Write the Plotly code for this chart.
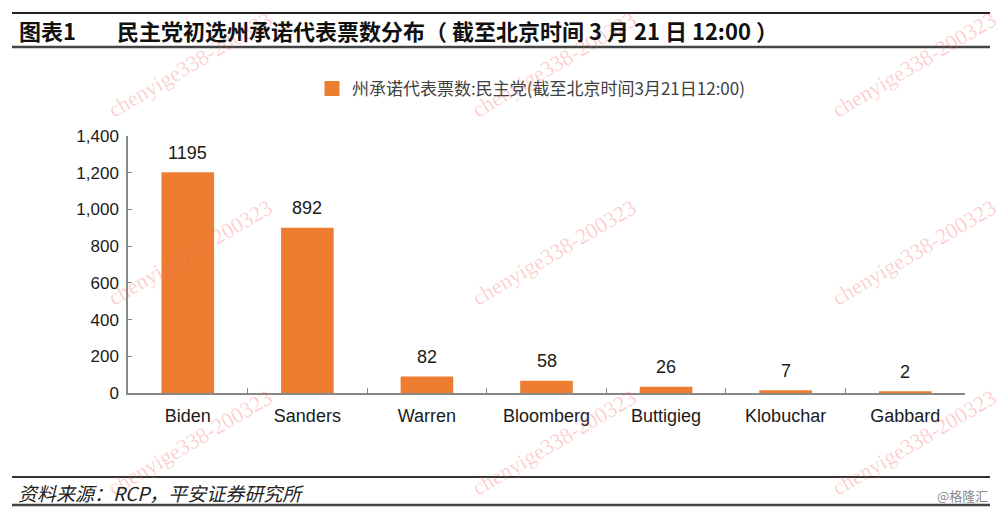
import plotly.graph_objects as go

candidates = ["Biden", "Sanders", "Warren", "Bloomberg", "Buttigieg", "Klobuchar", "Gabbard"]
delegates = [1195, 892, 82, 58, 26, 7, 2]
y_ticks = [0, 200, 400, 600, 800, 1000, 1200, 1400]
series_name = "州承诺代表票数:民主党(截至北京时间3月21日12:00)"
fig_label = "图表1"
fig_title = "民主党初选州承诺代表票数分布（ 截至北京时间 3 月 21 日 12:00 ）"
source_text = "资料来源：RCP，平安证券研究所"
brand_text = "@格隆汇"
watermark = "chenyige338-200323"

W, H = 1000, 512
L, R, T, B = 128, 965, 136, 393  # plot area in pixels

def px(x):
    return (x - L) / (R - L)

def py(y):
    return (B - y) / (B - T)

CJK = "Noto Sans CJK SC, Liberation Sans, Arial, sans-serif"
LAT = "Liberation Sans, Arial, Noto Sans CJK SC, sans-serif"

fig = go.Figure()
fig.add_trace(go.Bar(
    x=candidates, y=delegates, name=series_name,
    marker=dict(color="#ED7D31", line=dict(color="#ED7D31", width=3)),
    width=0.415, showlegend=True,
))

annotations = []
# value labels above bars
for c, v in zip(candidates, delegates):
    annotations.append(dict(
        x=c, y=v, xref="x", yref="y", text=str(v), showarrow=False,
        xanchor="center", yanchor="bottom", yshift=9,
        font=dict(family=LAT, size=18, color="#1a1a1a")))

# watermarks
for cx in [190, 554, 914]:
    for cy in [64, 252, 442]:
        annotations.append(dict(
            x=px(cx), y=py(cy), xref="paper", yref="paper", text=watermark,
            showarrow=False, textangle=-30.5,
            font=dict(family="Liberation Serif, serif", size=22, color="rgba(245,90,90,0.28)"),
            xanchor="center", yanchor="middle"))

annotations += [
    dict(x=px(17), y=py(30), xref="paper", yref="paper", text="<b>" + fig_label + "</b>",
         showarrow=False, xanchor="left", yanchor="middle",
         font=dict(family=CJK, size=22, color="#111111")),
    dict(x=px(115), y=py(30), xref="paper", yref="paper", text="<b>" + fig_title + "</b>",
         showarrow=False, xanchor="left", yanchor="middle",
         font=dict(family=CJK, size=22, color="#111111")),
    dict(x=px(16), y=py(492), xref="paper", yref="paper", text="<i>" + source_text + "</i>",
         showarrow=False, xanchor="left", yanchor="middle",
         font=dict(family=CJK, size=19, color="#222222")),
    dict(x=px(990), y=py(495), xref="paper", yref="paper", text=brand_text,
         showarrow=False, xanchor="right", yanchor="middle",
         font=dict(family=CJK, size=13, color="#888888")),
]

shapes = []
for yy, wdt, col in [(13, 2, "#222222"), (47, 2.5, "#444444"), (477, 2, "#333333"), (505, 2.5, "#444444")]:
    shapes.append(dict(type="line", xref="paper", yref="paper",
                       x0=px(12), x1=px(990), y0=py(yy), y1=py(yy),
                       line=dict(color=col, width=wdt)))

fig.update_layout(
    width=W, height=H,
    margin=dict(l=L, r=W - R, t=T, b=H - B, autoexpand=False),
    paper_bgcolor="white", plot_bgcolor="white",
    showlegend=True,
    legend=dict(orientation="h", xref="container", yref="container",
                x=0.312, y=1 - 89 / H, xanchor="left", yanchor="middle",
                font=dict(family=CJK, size=17, color="#404040"),
                bgcolor="rgba(0,0,0,0)", itemwidth=30),
    xaxis=dict(type="category", showline=True, linecolor="#888888", linewidth=1.5,
               ticks="inside", tickson="boundaries", ticklen=5, tickcolor="#888888",
               ticklabelstandoff=6,
               tickfont=dict(family=LAT, size=18, color="#1a1a1a"),
               showgrid=False, range=[-0.5, 6.5]),
    yaxis=dict(range=[0, 1400], tickvals=y_ticks, tickformat=",", showline=True,
               linecolor="#888888", linewidth=1.5, ticks="inside", ticklen=4,
               tickcolor="#888888", showgrid=False, zeroline=False,
               ticklabelstandoff=4,
               tickfont=dict(family=LAT, size=17, color="#1a1a1a")),
    annotations=annotations, shapes=shapes,
)

fig.write_html("out.html")
